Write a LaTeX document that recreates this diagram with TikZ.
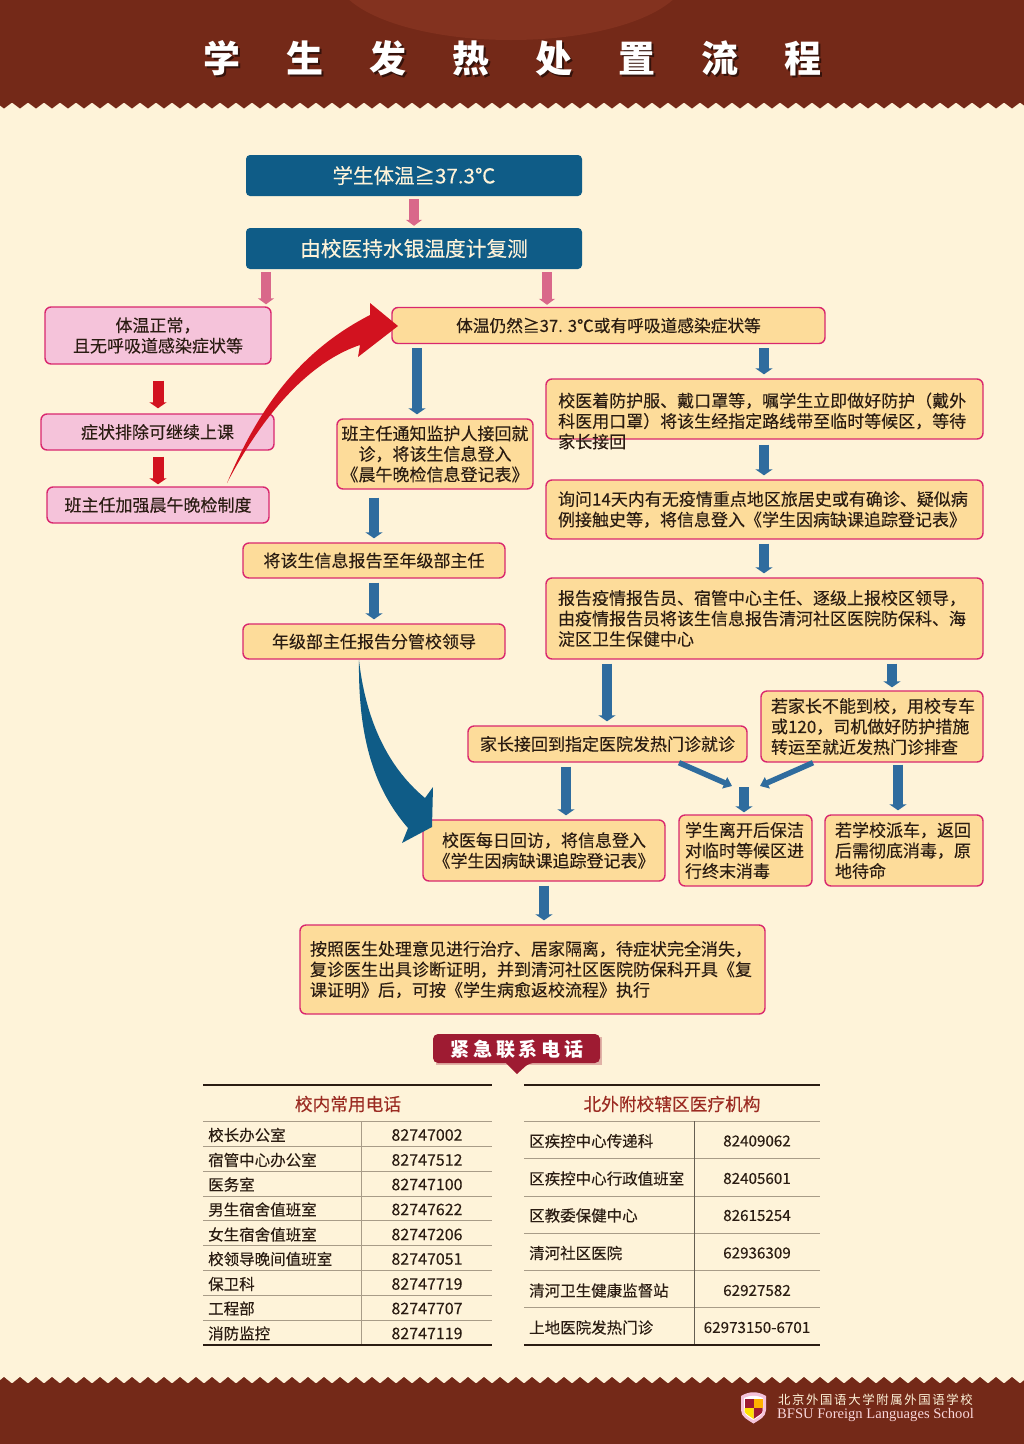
\documentclass[tikz,border=0pt]{standalone}
\usepackage{fontspec}
\setmainfont{Noto Sans CJK SC}[FakeBold=0.18]
\newfontfamily\plainfont{Noto Sans CJK SC}
\newfontfamily\logofont[LetterSpace=13]{Noto Sans CJK SC}
\newfontfamily\enfont{Liberation Serif}
\usetikzlibrary{arrows.meta,calc}
\definecolor{bgcream}{HTML}{FEF3D9}
\definecolor{band}{HTML}{742918}
\definecolor{bandlight}{HTML}{83321F}
\definecolor{headblue}{HTML}{0F5C87}
\definecolor{arrowblue}{HTML}{2F6C9E}
\definecolor{arrowpink}{HTML}{D9688A}
\definecolor{arrowred}{HTML}{D2121F}
\definecolor{pinkfill}{HTML}{F5C3DA}
\definecolor{orangefill}{HTML}{FDDC9A}
\definecolor{edgepink}{HTML}{D9276E}
\definecolor{inktext}{HTML}{2A1C12}
\definecolor{tabhead}{HTML}{9B2B22}
\definecolor{tabgrey}{HTML}{A89C88}
\definecolor{tabdark}{HTML}{2A1C12}
\definecolor{bannerred}{HTML}{9E1B32}
\newcommand{\bodyfont}{\fontsize{17}{20.5}\selectfont}
\newcommand{\titlestr}{学\hspace{46pt}生\hspace{46pt}发\hspace{46pt}热\hspace{46pt}处\hspace{46pt}置\hspace{46pt}流\hspace{46pt}程}
\tikzset{
  headbox/.style={draw=none,fill=headblue,rounded corners=4pt,text=bgcream,inner sep=0pt},
  pinkbox/.style={draw=edgepink,line width=1.4pt,fill=pinkfill,rounded corners=6pt,text=inktext,font=\bodyfont,inner sep=0pt,align=center},
  orangebox/.style={draw=edgepink,line width=1.4pt,fill=orangefill,rounded corners=6pt,text=inktext,font=\bodyfont,inner sep=0pt,align=center},
  leftbox/.style={orangebox,align=left,inner ysep=0pt},
  barpink/.style={draw=arrowpink,line width=10pt,-{Triangle[width=16pt,length=6pt]},shorten <=3pt,shorten >=2pt},
  barred/.style={draw=arrowred,line width=11pt,-{Triangle[width=17pt,length=6pt]},shorten <=16pt,shorten >=5pt},
  barblue/.style={draw=arrowblue,line width=10pt,-{Triangle[width=17pt,length=6pt]},shorten <=4pt,shorten >=4pt},
  slant/.style={draw=arrowblue,line width=5.5pt,-{Triangle[width=12pt,length=8pt]}},
  tabcell/.style={text=inktext,inner sep=0pt,font=\fontsize{15.5}{18}\selectfont},
  tabnum/.style={text=inktext,inner sep=0pt},
  tabtitle/.style={text=tabhead,inner sep=0pt,font=\fontsize{17.7}{20}\selectfont},
  greyrule/.style={draw=tabgrey,line width=1pt},
  darkrule/.style={draw=tabdark,line width=1.3pt},
}
\begin{document}
\begin{tikzpicture}[x=1pt,y=-1pt]
\useasboundingbox (0,0) rectangle (1024,1444);
\fill[bgcream] (0,0) rectangle (1024,1444);
% bands
\fill[band] (0,0) rectangle (1024,103);
\foreach \k in {0,...,64}{\fill[band] ({\k*16-4},102.5) -- ({\k*16+4},108.5) -- ({\k*16+12},102.5) -- cycle;}
\fill[band] (0,1383) rectangle (1024,1444);
\foreach \k in {0,...,64}{\fill[band] ({\k*16-4},1383.5) -- ({\k*16+4},1377) -- ({\k*16+12},1383.5) -- cycle;}
\begin{scope}
\clip (0,0) rectangle (1024,103);
\fill[bandlight] (511,-25) ellipse [x radius=175,y radius=65];
\end{scope}
% title
\node[text=black!55!band,inner sep=0pt,font=\plainfont\fontsize{37}{40}\bfseries] (titleshadow) at (514.5,60.5) {\titlestr};
\node[text=white,inner sep=0pt,font=\plainfont\fontsize{37}{40}\bfseries] (title) at (512.5,58.5) {\titlestr};
% head boxes
\node[headbox,minimum width=336,minimum height=41,font=\fontsize{20.5}{23}\selectfont] (a) at (414,175.5) {学生体温≧37.3℃};
\node[headbox,minimum width=336,minimum height=41,font=\fontsize{20.7}{23}\selectfont] (b) at (414,248.5) {由校医持水银温度计复测};
% pink boxes
\node[pinkbox,minimum width=226,minimum height=57] (p1) at (158,335.5) {体温正常，\\且无呼吸道感染症状等};
\node[pinkbox,minimum width=233,minimum height=36] (p2) at (157.5,432) {症状排除可继续上课};
\node[pinkbox,minimum width=222,minimum height=36] (p3) at (158,505) {班主任加强晨午晚检制度};
% orange boxes
\node[orangebox,minimum width=433,minimum height=36,font=\fontsize{16.7}{20}\selectfont] (o1) at (608.5,325.5) {体温仍然≧37. 3℃或有呼吸道感染症状等};
\node[orangebox,minimum width=196,minimum height=70] (o2) at (435,454) {班主任通知监护人接回就\\诊，将该生信息登入\\《晨午晚检信息登记表》};
\node[orangebox,minimum width=262,minimum height=35] (o3) at (374,560.5) {将该生信息报告至年级部主任};
\node[orangebox,minimum width=262,minimum height=35] (o4) at (374,641.5) {年级部主任报告分管校领导};
\node[orangebox,minimum width=437,minimum height=60] (o5) at (764.5,409) {};
\node[text=inktext,inner sep=0pt,font=\bodyfont,align=left,anchor=west] (o5text) at (558,421) {校医着防护服、戴口罩等，嘱学生立即做好防护（戴外\\科医用口罩）将该生经指定路线带至临时等候区，等待\\家长接回};
\node[leftbox,minimum height=59,text width=413,inner xsep=12pt] (o6) at (764.5,509.5) {询问14天内有无疫情重点地区旅居史或有确诊、疑似病\\例接触史等，将信息登入《学生因病缺课追踪登记表》};
\node[leftbox,minimum height=81,text width=413,inner xsep=12pt] (o7) at (764.5,618.5) {报告疫情报告员、宿管中心主任、逐级上报校区领导，\\由疫情报告员将该生信息报告清河社区医院防保科、海\\淀区卫生保健中心};
\node[orangebox,minimum width=279,minimum height=36] (o8) at (607.5,744) {家长接回到指定医院发热门诊就诊};
\node[leftbox,minimum height=71,text width=202,inner xsep=10pt] (o9) at (872,726.5) {若家长不能到校，用校专车\\或120，司机做好防护措施\\转运至就近发热门诊排查};
\node[orangebox,minimum width=242,minimum height=61] (o10) at (544,850.5) {校医每日回访，将信息登入\\《学生因病缺课追踪登记表》};
\node[leftbox,minimum height=71,text width=121,inner xsep=6pt] (o11) at (745.5,850.5) {学生离开后保洁\\对临时等候区进\\行终末消毒};
\node[leftbox,minimum height=71,text width=138,inner xsep=10pt] (o12) at (904,850.5) {若学校派车，返回\\后需彻底消毒，原\\地待命};
\node[leftbox,minimum height=89,text width=445,inner xsep=10pt] (o13) at (532.5,969.5) {按照医生处理意见进行治疗、居家隔离，待症状完全消失，\\复诊医生出具诊断证明，并到清河社区医院防保科开具《复\\课证明》后，可按《学生病愈返校流程》执行};
% column guides
\coordinate (g414) at (414,0);
\coordinate (g266) at (266,0);
\coordinate (g547) at (547,0);
\coordinate (g158) at (158,0);
\coordinate (g417) at (417,0);
\coordinate (g764) at (764,0);
\coordinate (g374) at (374,0);
\coordinate (g607) at (607,0);
\coordinate (g892) at (892,0);
\coordinate (g566) at (566,0);
\coordinate (g898) at (898,0);
\coordinate (g544) at (544,0);
\coordinate (g744) at (744,0);
\coordinate (g679) at (679,0);
\coordinate (g813) at (813,0);
\coordinate (t1) at (732,786);
\coordinate (t2) at (760,786);
\coordinate (s3) at (744,787);
% connectors
\draw[barpink] (a.south -| g414) -- (b.north -| g414);
\draw[barpink] (b.south -| g266) -- (p1.north -| g266);
\draw[barpink] (b.south -| g547) -- (o1.north -| g547);
\draw[barred] (p1.south -| g158) -- (p2.north -| g158);
\draw[barred,shorten <=6pt,shorten >=2pt] (p2.south -| g158) -- (p3.north -| g158);
\draw[barblue] (o1.south -| g417) -- (o2.north -| g417);
\draw[barblue] (o1.south -| g764) -- (o5.north -| g764);
\draw[barblue] (o5.south -| g764) ++(0,1) -- (o6.north -| g764);
\draw[barblue] (o6.south -| g764) -- (o7.north -| g764);
\draw[barblue,shorten <=8pt] (o2.south -| g374) -- (o3.north -| g374);
\draw[barblue] (o3.south -| g374) -- (o4.north -| g374);
\draw[barblue] (o7.south -| g607) -- (o8.north -| g607);
\draw[barblue,shorten >=3pt] (o7.south -| g892) -- (o9.north -| g892);
\draw[barblue] (o8.south -| g566) -- (o10.north -| g566);
\draw[barblue,shorten <=2pt] (o9.south -| g898) -- (o12.north -| g898);
\draw[barblue] (o10.south -| g544) -- (o13.north -| g544);
\draw[barblue,shorten <=0pt,shorten >=2pt] (s3) -- (o11.north -| g744);
\draw[slant] (o8.south -| g679) -- (t1);
\draw[slant] (o9.south -| g813) -- (t2);
% big curved arrows
\fill[arrowred] (227,483) .. controls (258,410) and (298,352) .. (370,315) -- (370,303) -- (398,326) -- (358,357) -- (360,345)
  .. controls (315,360) and (268,405) .. cycle;
\fill[headblue] (359,660) .. controls (365,715) and (385,765) .. (425,798) -- (433,787) -- (432,827) -- (402,843) -- (408,828)
  .. controls (375,790) and (358,740) .. cycle;
% banner
\fill[bannerred!30!bgcream] (436,1037) rectangle (601.5,1065);
\fill[bannerred,rounded corners=5pt] (433,1034) -- (600,1034) -- (600,1063) -- (529,1063) [sharp corners] -- (517,1074) -- (506,1063) [rounded corners=5pt] -- (433,1063) -- cycle;
\node[text=white,inner sep=0pt,font=\plainfont\fontsize{19}{22}\bfseries\addfontfeature{LetterSpace=20}] (bannertext) at (517,1049) {紧急联系电话};
% left table
\draw[darkrule] (203,1085) -- (492,1085);
\node[tabtitle] (lhead) at (348,1104) {校内常用电话};
\foreach \yy in {1121,1146,1171,1196,1220,1245,1270,1295,1320}{\draw[greyrule] (203,\yy) -- (492,\yy);}
\draw[greyrule] (361,1121) -- (361,1345);
\draw[darkrule] (203,1345) -- (492,1345);
\foreach \i/\yy/\aa/\bb in {1/1135/校长办公室/82747002,2/1160/宿管中心办公室/82747512,3/1184.5/医务室/82747100,4/1209.5/男生宿舍值班室/82747622,5/1234.5/女生宿舍值班室/82747206,6/1259/校领导晚间值班室/82747051,7/1284/保卫科/82747719,8/1308.5/工程部/82747707,9/1333.5/消防监控/82747119}{
  \node[tabcell,anchor=west] (la\i) at (208,\yy) {\aa};
  \node[tabnum,font=\fontsize{16}{18}\selectfont] (lb\i) at (427,\yy) {\bb};
}
% right table
\draw[darkrule] (524,1085) -- (820,1085);
\node[tabtitle] (rhead) at (672,1104) {北外附校辖区医疗机构};
\foreach \yy in {1121,1158,1196,1233,1270,1307}{\draw[greyrule] (524,\yy) -- (820,\yy);}
\draw[draw=tabgrey!60!black,line width=1pt] (694,1121) -- (694,1345);
\draw[darkrule] (524,1345) -- (820,1345);
\foreach \i/\yy/\aa/\bb in {1/1141/区疾控中心传递科/82409062,2/1178.5/区疾控中心行政值班室/82405601,3/1215.5/区教委保健中心/82615254,4/1253/清河社区医院/62936309,5/1290.5/清河卫生健康监督站/62927582,6/1327.5/上地医院发热门诊/62973150-6701}{
  \node[tabcell,anchor=west] (ra\i) at (529,\yy) {\aa};
  \node[tabnum,font=\fontsize{15.2}{18}\selectfont] (rb\i) at (757,\yy) {\bb};
}
% logo
\fill[pinkfill] (741,1396) .. controls (749,1391) and (758,1391) .. (766,1396) -- (766,1410) .. controls (766,1417) and (759,1420) .. (753.5,1423.5) .. controls (748,1420) and (741,1417) .. (741,1410) -- cycle;
\fill[white] (744,1398) .. controls (750,1395) and (757,1395) .. (763,1398) -- (763,1410) .. controls (763,1415) and (758,1417) .. (753.5,1420) .. controls (749,1417) and (744,1415) .. (744,1410) -- cycle;
\fill[bannerred] (744.5,1399) rectangle (753.5,1408);
\fill[bannerred] (753.5,1408) -- (762.5,1408) -- (762.5,1411) .. controls (762.5,1414) and (757,1416) .. (753.5,1419) -- cycle;
\fill[yellow!85!orange] (744.5,1408) -- (753.5,1408) -- (753.5,1419) .. controls (750,1416) and (744.5,1414) .. (744.5,1411) -- cycle;
\fill[orange!60!yellow] (753.5,1399) rectangle (762.5,1408);
\node[text=bgcream,inner sep=0pt,anchor=west,font=\logofont\fontsize{12.4}{14}\selectfont] (logocn) at (778,1400) {北京外国语大学附属外国语学校};
\node[text=pinkfill!60!bgcream,inner sep=0pt,anchor=west,font=\enfont\fontsize{14.6}{16}\selectfont] (logoen) at (777,1414.5) {BFSU Foreign Languages School};
\end{tikzpicture}
\end{document}
